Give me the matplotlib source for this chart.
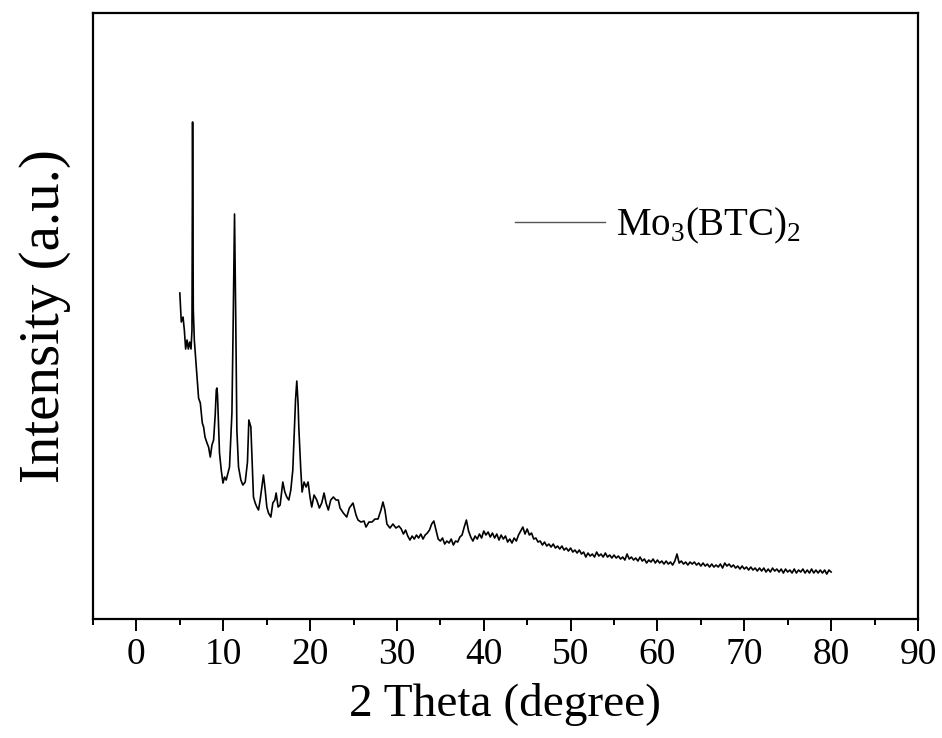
import matplotlib
matplotlib.use("Agg")
import matplotlib.pyplot as plt
from matplotlib.ticker import MultipleLocator
import numpy as np

plt.rcParams['font.family'] = ['Liberation Serif', 'DejaVu Serif']
plt.rcParams['mathtext.fontset'] = 'custom'
plt.rcParams['mathtext.rm'] = 'Liberation Serif'

# Low-angle part (irregularly read points, 5 - 30.2 degrees)
two_theta_low = [
    5.00, 5.17, 5.37, 5.52, 5.67, 5.83, 5.98, 6.13, 6.29, 6.40, 6.47, 6.55, 6.67,
    6.90, 7.16, 7.36, 7.59, 7.74, 7.90, 8.13, 8.31, 8.51, 8.70, 8.89, 9.08, 9.20,
    9.27, 9.34, 9.57, 9.77, 9.97, 10.15, 10.34, 10.54, 10.72, 11.00, 11.15, 11.30,
    11.44, 11.57, 11.76, 12.03, 12.26, 12.53, 12.79, 12.95, 13.05, 13.18, 13.37,
    13.48, 13.68, 13.87, 14.06, 14.25, 14.45, 14.63, 14.83, 15.02, 15.21, 15.48,
    15.71, 15.94, 16.09, 16.32, 16.55, 16.86, 17.09, 17.32, 17.55, 17.78, 18.01,
    18.20, 18.33, 18.47, 18.62, 18.70, 18.93, 19.08, 19.31, 19.54, 19.77, 19.99,
    20.19, 20.46, 20.77, 21.07, 21.34, 21.61, 21.84, 22.10, 22.38, 22.68, 22.99,
    23.25, 23.45, 23.83, 24.22, 24.52, 24.94, 25.29, 25.52, 25.86, 26.21, 26.44,
    26.78, 27.13, 27.47, 27.82, 28.16, 28.39, 28.62, 28.85, 29.20, 29.54, 29.89,
    30.23,
]
intensity_low = [
    326, 297, 302, 289, 270, 279, 270, 277, 270, 289, 497, 310, 279,
    252, 221, 216, 196, 192, 182, 176, 172, 162, 174, 179, 205, 229,
    231, 224, 166, 149, 136, 142, 139, 146, 152, 206, 300, 405,
    300, 189, 152, 139, 134, 137, 157, 199, 196, 192, 149,
    122, 116, 112, 109, 119, 132, 144, 129, 112, 106, 102,
    116, 119, 126, 112, 114, 137, 127, 122, 119, 129, 149,
    192, 220, 238, 215, 192, 149, 127, 137, 132, 137, 122,
    112, 124, 119, 111, 116, 126, 116, 109, 119, 122, 119,
    119, 111, 106, 102, 111, 116, 104, 99, 97, 98, 92,
    97, 97, 100, 100, 109, 117, 109, 95, 91, 95, 91,
    93,
]

# High-angle part, scan grid of 0.25 degree from 30.5 to 80
two_theta_high = np.arange(30.5, 80.001, 0.25)
intensity_high = [
    90, 85, 89, 83, 79, 83, 80, 84,
    81, 85, 80, 84, 86, 89, 95, 98,
    89, 80, 78, 81, 75, 78, 76, 80,
    74, 78, 77, 82, 84, 92, 99, 88,
    82, 78, 83, 80, 85, 81, 88, 84,
    87, 82, 86, 81, 85, 79, 84, 80,
    83, 77, 80, 76, 81, 78, 84, 88,
    92, 85, 90, 84, 86, 80, 81, 77,
    78, 74, 77, 73, 75, 72, 75, 71,
    73, 70, 73, 69, 71, 68, 71, 67,
    69, 66, 69, 65, 67, 62, 66, 63,
    65, 62, 67, 63, 65, 62, 66, 62,
    64, 61, 64, 61, 63, 60, 62, 59,
    65, 60, 62, 59, 61, 58, 62, 58,
    60, 56, 59, 57, 60, 56, 59, 56,
    58, 55, 58, 55, 57, 54, 58, 65,
    56, 58, 55, 57, 54, 57, 55, 57,
    54, 56, 53, 56, 53, 55, 52, 55,
    52, 54, 52, 55, 51, 56, 53, 55,
    52, 54, 51, 53, 50, 53, 50, 52,
    49, 52, 49, 51, 48, 51, 48, 51,
    47, 50, 47, 51, 48, 50, 47, 50,
    46, 50, 47, 49, 46, 50, 46, 49,
    47, 50, 46, 49, 46, 50, 46, 49,
    46, 49, 46, 49, 45, 49, 47,
]

series_label = r"Mo$_\mathregular{3}$(BTC)$_\mathregular{2}$"
x_ticks = [0, 10, 20, 30, 40, 50, 60, 70, 80, 90]

two_theta = list(two_theta_low) + list(two_theta_high)
intensity = list(intensity_low) + list(intensity_high)

fig = plt.figure(figsize=(9.42, 7.38), dpi=100)
ax = fig.add_axes([0.0987, 0.1612, 0.8758, 0.8212])

ax.plot(two_theta, intensity, color='black', linewidth=1.2, label=series_label)

ax.set_xlim(-5, 90)
ax.set_ylim(0, 606)
ax.set_xticks(x_ticks)
ax.xaxis.set_minor_locator(MultipleLocator(5))
ax.set_yticks([])

ax.tick_params(axis='x', which='major', direction='out', length=8.5, width=1.4,
               labelsize=27, pad=5)
ax.tick_params(axis='x', which='minor', direction='out', length=4.3, width=1.4)
for s in ax.spines.values():
    s.set_linewidth(1.6)

ax.set_xlabel("2 Theta (degree)", fontsize=34, labelpad=8)
ax.set_ylabel("Intensity (a.u.)", fontsize=41, labelpad=16)

leg = ax.legend(loc='upper left', bbox_to_anchor=(0.512, 0.682), frameon=False,
                fontsize=28, handlelength=2.3, handletextpad=0.3,
                borderpad=0, borderaxespad=0)
for h in leg.get_lines():
    h.set_linewidth(1.0)
    h.set_color('#555555')

fig.savefig("out.png", dpi=100)
